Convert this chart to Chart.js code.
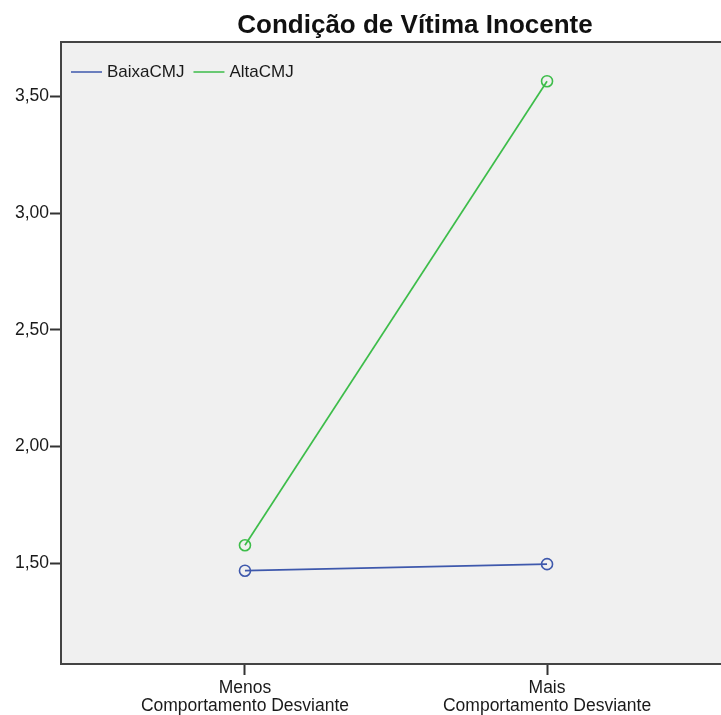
<!DOCTYPE html>
<html>
<head>
<meta charset="utf-8">
<script src="https://cdn.jsdelivr.net/npm/chart.js@4/dist/chart.umd.min.js"></script>
<style>
  html, body { margin: 0; padding: 0; background: #fff; overflow: hidden; }
  #wrap { width: 830px; height: 715px; }
</style>
</head>
<body>
<div id="wrap"><canvas id="chart" width="830" height="715"></canvas></div>
<script>
// valores
const categories = [['Menos', 'Comportamento Desviante'], ['Mais', 'Comportamento Desviante']];
const seriesNames = ['BaixaCMJ', 'AltaCMJ'];
const baixaCMJ = [1.468, 1.496];
const altaCMJ = [1.577, 3.566];
const yTicks = [1.5, 2.0, 2.5, 3.0, 3.5];
const seriesColors = ['#3e58ac', '#3dbd4a'];
const chartTitle = 'Condição de Vítima Inocente';

const fontFamily = '"Liberation Sans", Arial, sans-serif';

// fundo, moldura, título e legenda (dentro do gráfico)
const framePlugin = {
    id: 'frame',
    beforeDraw(chart) {
        const { ctx, chartArea: a } = chart;
        ctx.save();
        ctx.fillStyle = '#f0f0f0';
        ctx.fillRect(a.left, a.top, a.right - a.left, a.bottom - a.top);
        ctx.restore();
    },
    afterDraw(chart) {
        const { ctx, chartArea: a } = chart;
        ctx.save();
        ctx.strokeStyle = '#444444';
        ctx.lineWidth = 2;
        ctx.strokeRect(a.left, a.top, a.right - a.left, a.bottom - a.top);

        // título
        ctx.font = 'bold 26px ' + fontFamily;
        ctx.fillStyle = '#111';
        ctx.textAlign = 'center';
        ctx.textBaseline = 'alphabetic';
        ctx.fillText(chartTitle, (a.left + a.right) / 2 + 19, 33);

        // legenda
        ctx.font = '17px ' + fontFamily;
        ctx.textAlign = 'left';
        ctx.textBaseline = 'middle';
        let x = a.left + 10;
        const y = a.top + 30;
        chart.data.datasets.forEach((ds) => {
            ctx.strokeStyle = ds.borderColor;
            ctx.lineWidth = 1.5;
            ctx.beginPath();
            ctx.moveTo(x, y);
            ctx.lineTo(x + 31, y);
            ctx.stroke();
            x += 36;
            ctx.fillStyle = '#1a1a1a';
            ctx.fillText(ds.label, x, y);
            x += ctx.measureText(ds.label).width + 9;
        });
        ctx.restore();
    }
};

const ctx = document.getElementById('chart').getContext('2d');
new Chart(ctx, {
    type: 'line',
    data: {
        datasets: [
            {
                label: seriesNames[0],
                data: baixaCMJ.map((v, i) => ({ x: i, y: v })),
                borderColor: seriesColors[0],
                pointBorderColor: seriesColors[0],
            },
            {
                label: seriesNames[1],
                data: altaCMJ.map((v, i) => ({ x: i, y: v })),
                borderColor: seriesColors[1],
                pointBorderColor: seriesColors[1],
            }
        ]
    },
    options: {
        responsive: false,
        animation: false,
        devicePixelRatio: 1,
        layout: { padding: { left: 0, right: 99, top: 42, bottom: 0 } },
        elements: {
            line: { borderWidth: 1.7, tension: 0 },
            point: { radius: 5.5, borderWidth: 1.6, backgroundColor: 'rgba(0,0,0,0)', pointStyle: 'circle' }
        },
        plugins: {
            legend: { display: false },
            tooltip: { enabled: false },
            title: { display: false }
        },
        scales: {
            x: {
                type: 'linear',
                min: -0.609,
                max: 1.609,
                grid: { display: true, drawOnChartArea: false, drawTicks: true, tickLength: 11, tickColor: '#333', tickWidth: 2 },
                border: { display: false },
                afterBuildTicks: (s) => { s.ticks = categories.map((c, i) => ({ value: i })); },
                afterFit: (s) => { s.height = 51; },
                ticks: {
                    color: '#1a1a1a',
                    padding: 4,
                    maxRotation: 0,
                    autoSkip: false,
                    font: { family: fontFamily, size: 17.5, lineHeight: 1.03 },
                    callback: (v) => categories[v]
                }
            },
            y: {
                min: 1.068,
                max: 3.734,
                grid: { display: true, drawOnChartArea: false, drawTicks: true, tickLength: 11, tickColor: '#333', tickWidth: 2 },
                border: { display: false },
                afterBuildTicks: (s) => { s.ticks = yTicks.map(v => ({ value: v })); },
                afterFit: (s) => { s.width = 61; },
                ticks: {
                    color: '#1a1a1a',
                    padding: 1,
                    font: { family: fontFamily, size: 17.5 },
                    callback: (v) => v.toFixed(2).replace('.', ',')
                }
            }
        }
    },
    plugins: [framePlugin]
});
</script>
</body>
</html>
